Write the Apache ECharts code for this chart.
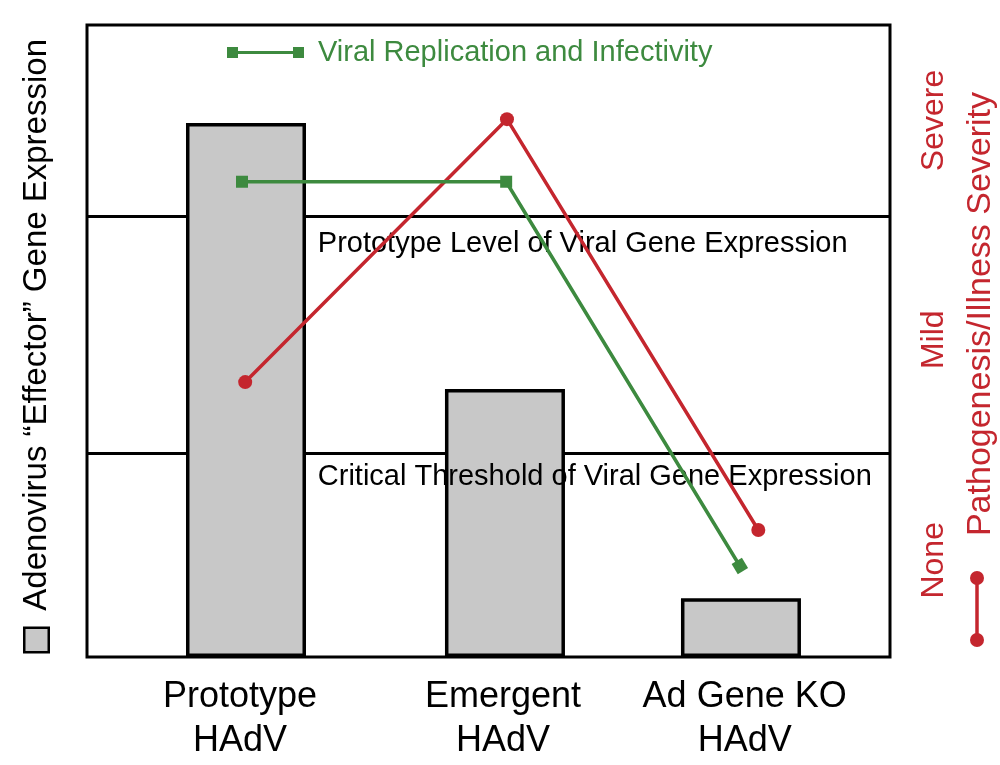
<!DOCTYPE html>
<html><head><meta charset="utf-8">
<script src="https://cdn.jsdelivr.net/npm/echarts@6/dist/echarts.min.js"></script>
<style>html,body{margin:0;padding:0;background:#fff}#c{width:1000px;height:765px}</style>
</head><body><div id="c"></div>
<script>
// ---- data ----
const categories = ['Prototype\nHAdV', 'Emergent\nHAdV', 'Ad Gene KO\nHAdV'];
const categoryPos = [19.05, 51.8, 81.9];           // x positions of category labels
const barX = [19.8, 52.05, 81.44];                 // bar centres
const geneExpression = [84.5, 42.4, 9.3];          // bar heights
const severityX = [19.7, 52.3, 83.6];
const severity = [43.5, 85.1, 20.1];               // red line
const replicationX = [19.3, 52.2, 81.3];
const replication = [75.2, 75.2, 14.4];            // green line
const thresholdNames = ['Prototype Level of Viral Gene Expression', 'Critical Threshold of Viral Gene Expression'];
const thresholdValues = [69.8, 32.3];
const thresholdLabelStart = [27.0, 27.5];
const severityTicks = ['None', 'Mild', 'Severe'];
const severityTickValues = [15.3, 50.2, 84.9];

const RED = '#c4262e', GREEN = '#3d8a3f', FONT = 'Liberation Sans';

const chart = echarts.init(document.getElementById('c'));
chart.setOption({
  animation: false,
  textStyle: {fontFamily: FONT},
  grid: {left: 87, right: 110, top: 25, bottom: 108, outerBoundsMode: 'none', containLabel: false,
         show: true, borderColor: '#000', borderWidth: 3, backgroundColor: 'transparent', z: 10},
  legend: {
    data: ['Viral Replication and Infectivity'],
    left: 227, top: 38, padding: 0,
    icon: 'path://M0,0h11v11h-11zM11,4h55v3h-55zM66,0h11v11h-11z',
    itemWidth: 77, itemHeight: 11,
    textStyle: {color: GREEN, fontSize: 29, fontFamily: FONT, padding: [0, 0, 0, 9]}
  },
  xAxis: {
    type: 'value', min: 0, max: 100,
    axisLine: {show: false}, axisTick: {show: false}, splitLine: {show: false},
    axisLabel: {
      customValues: categoryPos,
      formatter: v => { const i = categoryPos.indexOf(v); return i >= 0 ? categories[i] : ''; },
      color: '#000', fontSize: 36, lineHeight: 44, margin: 18, fontFamily: FONT
    }
  },
  yAxis: [{
    type: 'value', min: 0, max: 100,
    axisLine: {show: false}, axisTick: {show: false}, axisLabel: {show: false}, splitLine: {show: false},
    name: '{box|}  Adenovirus “Effector” Gene Expression',
    nameLocation: 'middle', nameRotate: 90, nameGap: 34,
    nameTextStyle: {color: '#000', fontSize: 33, fontFamily: FONT, padding: [0, 8, 0, 0],
      rich: {box: {width: 22, height: 22, backgroundColor: '#c8c8c8', borderColor: '#000', borderWidth: 2.5}}}
  }, {
    type: 'value', min: 0, max: 100, position: 'right',
    axisLine: {show: false}, axisTick: {show: false}, splitLine: {show: false},
    axisLabel: {
      customValues: severityTickValues,
      formatter: v => { const i = severityTickValues.indexOf(v); return i >= 0 ? severityTicks[i] : ''; },
      rotate: 90, color: RED, fontSize: 32, margin: 28, fontFamily: FONT
    },
    name: 'Pathogenesis/Illness Severity',
    nameLocation: 'middle', nameRotate: 90, nameGap: 74,
    nameTextStyle: {color: RED, fontSize: 34, fontFamily: FONT, padding: [0, 0, 0, 54]}
  }],
  series: [{
    name: 'refLines', type: 'line', data: [], silent: true,
    markLine: {
      z: 1, silent: true, symbol: 'none', animation: false,
      lineStyle: {color: '#000', width: 3, type: 'solid'},
      label: {show: false},
      data: thresholdValues.map(v => ({yAxis: v}))
    }
  }, {
    name: 'Adenovirus “Effector” Gene Expression', type: 'bar', z: 2,
    barWidth: 120,
    itemStyle: {color: '#c8c8c8', borderColor: '#000', borderWidth: 3.5},
    data: barX.map((x, i) => [x, geneExpression[i]])
  }, {
    name: 'refLabels', type: 'line', data: [], silent: true,
    markLine: {
      z: 3, silent: true, symbol: 'none', animation: false,
      lineStyle: {color: 'rgba(0,0,0,0)', width: 0},
      label: {show: true, position: 'insideStartBottom', distance: 12, color: '#000', fontSize: 29, fontFamily: FONT},
      data: thresholdValues.map((v, i) => [
        {coord: [thresholdLabelStart[i], v], label: {formatter: thresholdNames[i], distance: i === 0 ? 14 : 10}},
        {coord: [99, v]}
      ])
    }
  }, {
    name: 'Pathogenesis/Illness Severity', type: 'line', z: 4,
    data: severityX.map((x, i) => [x, severity[i]]),
    symbol: 'circle', symbolSize: 14,
    lineStyle: {color: RED, width: 3.5}, itemStyle: {color: RED}
  }, {
    name: 'Viral Replication and Infectivity', type: 'line', z: 5,
    data: replicationX.map((x, i) => i === 2 ? {value: [x, replication[i]], symbolRotate: 31} : [x, replication[i]]),
    symbol: 'rect', symbolSize: 12,
    lineStyle: {color: GREEN, width: 3.5}, itemStyle: {color: GREEN}
  }],
  graphic: [{
    type: 'group', left: 970, top: 571,
    children: [
      {type: 'line', shape: {x1: 7, y1: 7, x2: 7, y2: 69}, style: {stroke: RED, lineWidth: 3.5}},
      {type: 'circle', shape: {cx: 7, cy: 7, r: 7}, style: {fill: RED}},
      {type: 'circle', shape: {cx: 7, cy: 69, r: 7}, style: {fill: RED}}
    ]
  }]
});
</script></body></html>
